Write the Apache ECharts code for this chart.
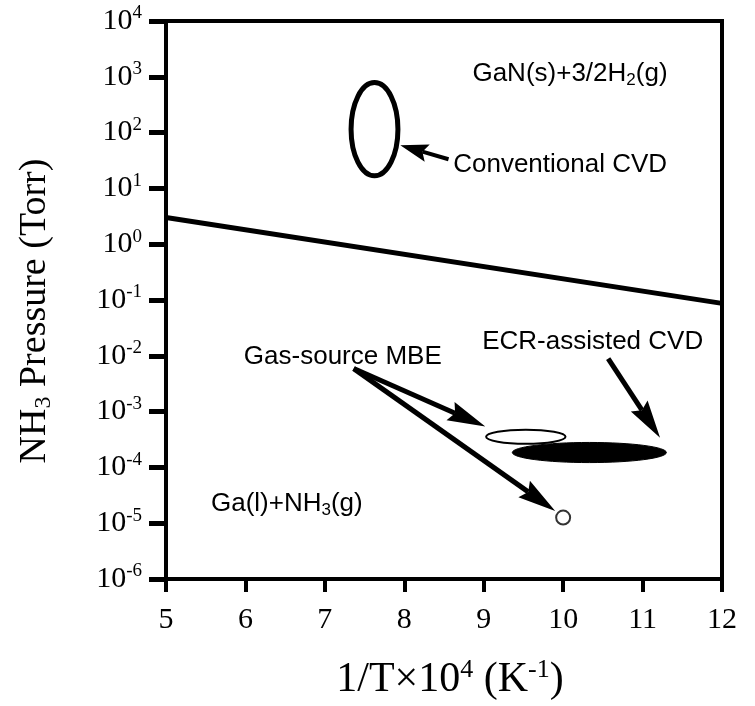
<!DOCTYPE html>
<html>
<head>
<meta charset="utf-8">
<script src="https://cdn.jsdelivr.net/npm/echarts@6/dist/echarts.min.js"></script>
<style>
  html, body { margin: 0; padding: 0; background: #fff; }
  #chart { width: 755px; height: 706px; }
</style>
</head>
<body>
<div id="chart"></div>
<script>
// Inverse temperature axis, 1/T x 10^4 (K^-1)
const xTicks = [5, 6, 7, 8, 9, 10, 11, 12];
// NH3 pressure decades (Torr)
const pressureExponents = [-6, -5, -4, -3, -2, -1, 0, 1, 2, 3, 4];

// GaN(s) / Ga(l) equilibrium boundary
const boundaryT = [5, 12];
const boundaryP = [3.0, 0.087];

// Growth windows: [1/T min, 1/T max, P min, P max]
const conventionalCVD = [7.33, 7.92, 16.8, 787];
const gasSourceMBE = [9.03, 10.03, 2.65e-4, 4.73e-4];
const ecrCVD = [9.36, 11.30, 1.22e-4, 2.8e-4];
// Single gas-source MBE growth condition
const mbePoint = [10.0, 1.26e-5];

// Arrows: [from 1/T, from P, to 1/T, to P]
const cvdArrow = [8.557, 33.3, 7.95, 59.4];
const mbeArrowA = [7.363, 5.9e-3, 9.02, 5.4e-4];
const mbeArrowB = [7.363, 5.9e-3, 9.90, 1.66e-5];
const ecrArrow = [10.567, 8.9e-3, 11.22, 3.4e-4];

// Annotation texts with their anchors (left edge, vertical middle)
const labelTexts = ['GaN(s)+3/2H{sub|2}(g)', 'Conventional CVD', 'Gas-source MBE', 'ECR-assisted CVD', 'Ga(l)+NH{sub|3}(g)'];
const labelT = [8.858, 8.616, 5.98, 8.98, 5.566];
const labelP = [1.12e3, 26, 9.7e-3, 1.8e-2, 2.2e-5];

const SERIF = '"Liberation Serif", "Times New Roman", serif';
const SANS = '"Liberation Sans", Arial, Helvetica, sans-serif';

function ellipseSeries(region, style) {
  return {
    type: 'custom',
    coordinateSystem: 'cartesian2d',
    silent: true,
    clip: false,
    z: 3,
    data: [region],
    encode: { x: [0, 1], y: [2, 3] },
    renderItem(params, api) {
      const p0 = api.coord([api.value(0), api.value(2)]);
      const p1 = api.coord([api.value(1), api.value(3)]);
      return {
        type: 'ellipse',
        shape: {
          cx: (p0[0] + p1[0]) / 2,
          cy: (p0[1] + p1[1]) / 2,
          rx: Math.abs(p1[0] - p0[0]) / 2,
          ry: Math.abs(p1[1] - p0[1]) / 2
        },
        style: style
      };
    }
  };
}

function arrowSeries(arrows, headLen, headHalfWidth, lineWidth) {
  return {
    type: 'custom',
    coordinateSystem: 'cartesian2d',
    silent: true,
    clip: false,
    z: 4,
    data: arrows,
    encode: { x: [0, 2], y: [1, 3] },
    renderItem(params, api) {
      const a = api.coord([api.value(0), api.value(1)]);
      const b = api.coord([api.value(2), api.value(3)]);
      const dx = b[0] - a[0], dy = b[1] - a[1];
      const len = Math.hypot(dx, dy);
      const ux = dx / len, uy = dy / len;
      const nx = -uy, ny = ux;
      const bx = b[0] - ux * headLen, by = b[1] - uy * headLen;
      const notch = 5;
      return {
        type: 'group',
        children: [
          {
            type: 'line',
            shape: { x1: a[0], y1: a[1], x2: bx + ux * notch, y2: by + uy * notch },
            style: { stroke: '#000', lineWidth: lineWidth }
          },
          {
            type: 'polygon',
            shape: {
              points: [
                [b[0], b[1]],
                [bx + nx * headHalfWidth, by + ny * headHalfWidth],
                [bx + ux * notch, by + uy * notch],
                [bx - nx * headHalfWidth, by - ny * headHalfWidth]
              ]
            },
            style: { fill: '#000' }
          }
        ]
      };
    }
  };
}

const chart = echarts.init(document.getElementById('chart'), null, { renderer: 'canvas' });

const option = {
  backgroundColor: '#fff',
  animation: false,
  grid: {
    left: 166, right: 33, top: 21, bottom: 127,
    containLabel: false,
    outerBoundsMode: 'none',
    show: true,
    borderColor: '#000',
    borderWidth: 4,
    backgroundColor: 'transparent'
  },
  xAxis: {
    type: 'value',
    min: xTicks[0],
    max: xTicks[xTicks.length - 1],
    interval: 1,
    name: '{m|1/T×10}{sup|4}{m| (K}{sup|-1}{m|)}',
    nameLocation: 'middle',
    nameGap: 78,
    nameTextStyle: {
      padding: [0, 0, 0, 12],
      rich: {
        m: { fontFamily: SERIF, fontSize: 42, color: '#000', lineHeight: 46 },
        sup: { fontFamily: SERIF, fontSize: 26, color: '#000', lineHeight: 30, verticalAlign: 'top' }
      }
    },
    axisLine: { show: true, onZero: false, lineStyle: { color: '#000', width: 4 } },
    axisTick: { show: true, inside: false, length: 13, lineStyle: { color: '#000', width: 4 } },
    axisLabel: {
      margin: 26,
      fontFamily: SERIF,
      fontSize: 30,
      color: '#000'
    },
    splitLine: { show: false }
  },
  yAxis: {
    type: 'log',
    logBase: 10,
    min: Math.pow(10, pressureExponents[0]),
    max: Math.pow(10, pressureExponents[pressureExponents.length - 1]),
    interval: 1,
    name: '{m|NH}{sub|3}{m| Pressure (Torr)}',
    nameLocation: 'middle',
    nameGap: 110,
    nameTextStyle: {
      padding: [0, 22, 0, 0],
      rich: {
        m: { fontFamily: SERIF, fontSize: 38, color: '#000', lineHeight: 42 },
        sub: { fontFamily: SERIF, fontSize: 24, color: '#000', lineHeight: 24, verticalAlign: 'bottom' }
      }
    },
    axisLine: { show: true, onZero: false, lineStyle: { color: '#000', width: 4 } },
    axisTick: { show: true, inside: false, length: 17, lineStyle: { color: '#000', width: 5 } },
    minorTick: { show: false },
    axisLabel: {
      margin: 24,
      formatter: function (v) {
        const e = Math.round(Math.log10(v));
        return '{b|10}{sup|' + e + '}';
      },
      rich: {
        b: { fontFamily: SERIF, fontSize: 30, color: '#000', lineHeight: 34 },
        sup: { fontFamily: SERIF, fontSize: 19, color: '#000', lineHeight: 17, verticalAlign: 'top' }
      }
    },
    splitLine: { show: false }
  },
  series: [
    {
      type: 'line',
      data: boundaryT.map((t, i) => [t, boundaryP[i]]),
      symbol: 'none',
      lineStyle: { color: '#000', width: 5 },
      z: 3
    },
    ellipseSeries(conventionalCVD, { fill: 'none', stroke: '#000', lineWidth: 5 }),
    ellipseSeries(gasSourceMBE, { fill: '#fff', stroke: '#000', lineWidth: 2 }),
    ellipseSeries(ecrCVD, { fill: '#000', stroke: '#000', lineWidth: 1 }),
    {
      type: 'scatter',
      data: [mbePoint],
      symbol: 'circle',
      symbolSize: 14,
      itemStyle: { color: '#fff', borderColor: '#000', borderWidth: 2 },
      silent: true,
      z: 5
    },
    arrowSeries([cvdArrow], 28, 9, 4),
    arrowSeries([mbeArrowA, mbeArrowB, ecrArrow], 38, 10, 5),
    {
      type: 'custom',
      coordinateSystem: 'cartesian2d',
      silent: true,
      clip: false,
      z: 6,
      data: labelT.map((t, i) => [t, labelP[i], i]),
      encode: { x: 0, y: 1 },
      renderItem(params, api) {
        const p = api.coord([api.value(0), api.value(1)]);
        return {
          type: 'text',
          x: p[0],
          y: p[1],
          style: {
            text: labelTexts[api.value(2)],
            fontFamily: SANS,
            fontSize: 26,
            fill: '#000',
            align: 'left',
            verticalAlign: 'middle',
            lineHeight: 30,
            rich: {
              sub: { fontFamily: SANS, fontSize: 17, fill: '#000', lineHeight: 16, verticalAlign: 'bottom' }
            }
          }
        };
      }
    }
  ]
};

chart.setOption(option);
</script>
</body>
</html>
